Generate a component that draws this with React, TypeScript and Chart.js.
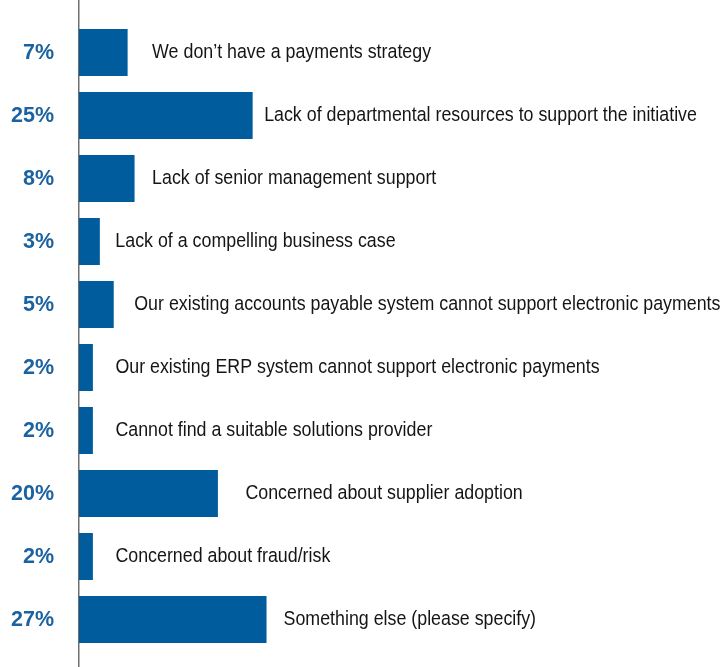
import React, { useEffect, useRef } from "react";
import { Chart, registerables } from "chart.js";

Chart.register(...registerables);

const categories = [
  "We don’t have a payments strategy",
  "Lack of departmental resources to support the initiative",
  "Lack of senior management support",
  "Lack of a compelling business case",
  "Our existing accounts payable system cannot support electronic payments",
  "Our existing ERP system cannot support electronic payments",
  "Cannot find a suitable solutions provider",
  "Concerned about supplier adoption",
  "Concerned about fraud/risk",
  "Something else (please specify)",
];

const values = [7, 25, 8, 3, 5, 2, 2, 20, 2, 27];

// horizontal gap (px) between bar end and its category text, per row
const labelGaps = [24.5, 11.5, 17.5, 15.5, 20.5, 22.5, 22.5, 27.5, 22.5, 17];

const BAR_COLOR = "#005c9c";
const PCT_COLOR = "#1b62a0";
const TEXT_SQUEEZE = 0.924;

export default function App() {
  const ref = useRef<HTMLCanvasElement | null>(null);

  useEffect(() => {
    if (!ref.current) return;
    const labelPlugin = {
      id: "labels",
      beforeDatasetsDraw(chart: any) {
        const { ctx, chartArea } = chart;
        ctx.save();
        ctx.strokeStyle = "#6e6e6e";
        ctx.lineWidth = 1.5;
        ctx.beginPath();
        ctx.moveTo(chartArea.left - 0.25, 0);
        ctx.lineTo(chartArea.left - 0.25, chart.height);
        ctx.stroke();
        ctx.restore();
      },
      afterDatasetsDraw(chart: any) {
        const { ctx } = chart;
        const meta = chart.getDatasetMeta(0);
        meta.data.forEach((bar: any, i: number) => {
          ctx.save();
          ctx.textBaseline = "middle";
          ctx.font = '19.3px "Liberation Sans", Arial, sans-serif';
          ctx.fillStyle = "#151515";
          ctx.textAlign = "left";
          ctx.translate(bar.x + labelGaps[i], bar.y + 0.5);
          ctx.scale(TEXT_SQUEEZE, 1);
          ctx.fillText(categories[i], 0, 0);
          ctx.restore();

          ctx.save();
          ctx.textBaseline = "middle";
          ctx.font = 'bold 21.5px "Liberation Sans", Arial, sans-serif';
          ctx.fillStyle = PCT_COLOR;
          ctx.textAlign = "right";
          ctx.fillText(values[i] + "%", 54, bar.y + 1);
          ctx.restore();
        });
      },
    };

    const chart = new Chart(ref.current, {
      type: "bar",
      data: {
        labels: categories,
        datasets: [
          {
            data: values,
            backgroundColor: BAR_COLOR,
            borderWidth: 0,
            barPercentage: 0.746,
            categoryPercentage: 1,
          },
        ],
      },
      options: {
        indexAxis: "y",
        responsive: false,
        devicePixelRatio: 1,
        animation: false,
        layout: { padding: { left: 79, right: 4, top: 21, bottom: 16 } },
        plugins: {
          legend: { display: false },
          tooltip: { enabled: false },
        },
        scales: {
          x: { display: false, min: 0, max: 92, grid: { display: false } },
          y: { display: false, grid: { display: false } },
        },
      },
      plugins: [labelPlugin],
    });
    return () => chart.destroy();
  }, []);

  return (
    <div style={{ position: "fixed", left: 0, top: 0, width: 722, height: 667, background: "#fff" }}>
      <canvas ref={ref} width={722} height={667} style={{ display: "block" }} />
    </div>
  );
}
